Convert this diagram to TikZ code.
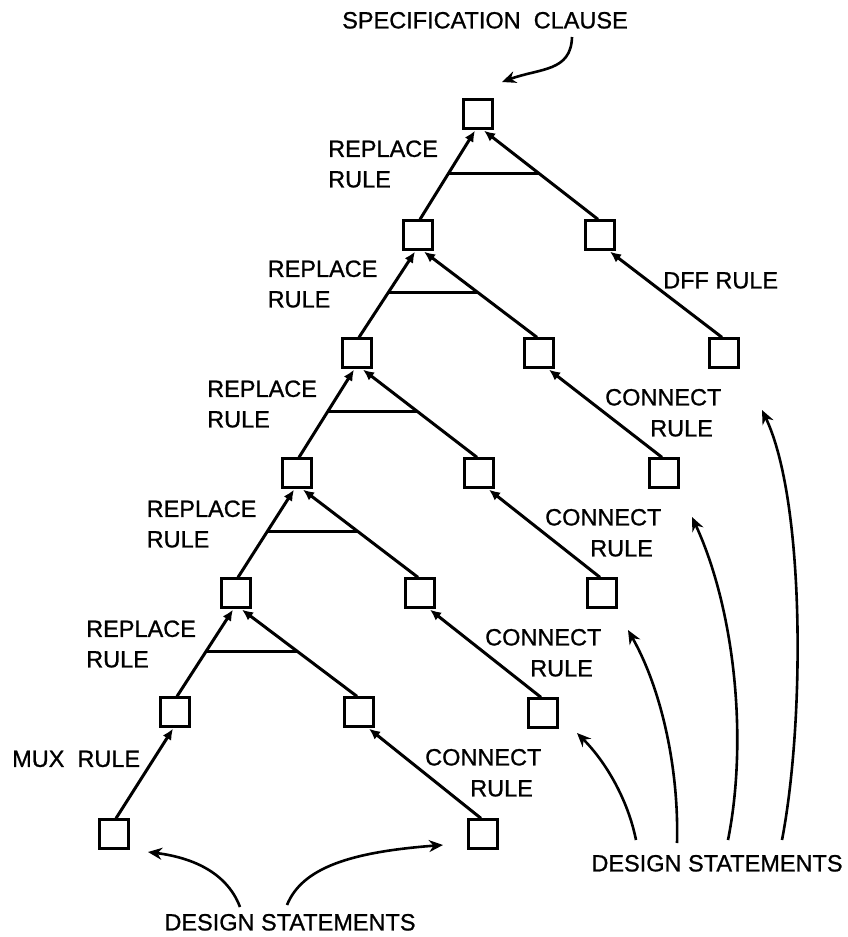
\documentclass[tikz,border=0pt]{standalone}
\usepackage{fontspec}
\setmainfont{Liberation Sans}
\newfontfamily\lblfont{Liberation Sans}[FakeBold=0.9]
\usetikzlibrary{arrows.meta}
\tikzset{
 box/.style={draw, line width=2.8pt, minimum size=28.5pt, inner sep=0pt},
 arm/.style={line width=3pt, -{Latex[length=11pt,width=10pt]}},
 bar/.style={line width=3pt},
 lbl/.style={font=\lblfont\fontsize{23.5}{28}\selectfont, inner sep=0pt, text height=16.8pt, text depth=0pt, anchor=west},
 ctr/.style={lbl, anchor=center},
 note/.style={line width=2.6pt, -{Stealth[length=14pt,width=12pt]}},
}
\begin{document}
\begin{tikzpicture}[x=1pt,y=-1pt]
\useasboundingbox (0,0) rectangle (847,937);
% boxes
\node[box] (T0) at (478,114) {};
\node[box] (L1) at (418,235) {};
\node[box] (R1) at (600,235) {};
\node[box] (L2) at (357,353) {};
\node[box] (R2) at (539,353) {};
\node[box] (D)  at (724,353) {};
\node[box] (L3) at (297,473) {};
\node[box] (R3) at (479,473) {};
\node[box] (C3) at (664,473) {};
\node[box] (L4) at (236,593) {};
\node[box] (R4) at (420,593) {};
\node[box] (C4) at (602,593) {};
\node[box] (L5) at (175,712) {};
\node[box] (R5) at (359,712) {};
\node[box] (C5) at (543,713) {};
\node[box] (L6) at (114,834) {};
\node[box] (C6) at (483,834) {};
% replace rules
\foreach \p/\a/\b/\n in {T0/L1/R1/0, L1/L2/R2/1, L2/L3/R3/2, L3/L4/R4/3, L4/L5/R5/4}{
  \draw[arm] ([xshift=2pt]\a.north) -- coordinate[pos=0.52] (pa\n) ([xshift=-3pt,yshift=-1pt]\p.south);
  \draw[arm] ([xshift=-2pt]\b.north) -- coordinate[pos=0.52] (pb\n) ([xshift=6pt,yshift=-1pt]\p.south);
  \draw[bar] (pa\n) -- (pb\n);
}
% connect / dff / mux rules
\draw[arm] ([xshift=-2pt]D.north) -- ([xshift=10pt,yshift=-1pt]R1.south);
\draw[arm] ([xshift=-2pt]C3.north) -- ([xshift=10pt,yshift=-1pt]R2.south);
\draw[arm] ([xshift=-2pt]C4.north) -- ([xshift=10pt,yshift=-1pt]R3.south);
\draw[arm] ([xshift=-2pt]C5.north) -- ([xshift=10pt,yshift=-1pt]R4.south);
\draw[arm] ([xshift=-2pt]C6.north) -- ([xshift=10pt,yshift=-1pt]R5.south);
\draw[arm] ([xshift=2pt]L6.north) -- ([xshift=-2pt,yshift=-1pt]L5.south);
% labels
\foreach \k in {0,...,4}{
  \node[lbl] (rp\k) at ({328-60.5*\k},{148.5+120*\k}) {REPLACE};
  \node[lbl] (rr\k) at ({328-60.5*\k},{179+120*\k}) {RULE};
}
\foreach \k in {0,...,3}{
  \node[lbl] (cc\k) at ({605-60*\k},{397+120*\k}) {CONNECT};
  \node[lbl] (cr\k) at ({650-60*\k},{428+120*\k}) {RULE};
}
\node[lbl] (dff) at (663,280) {DFF RULE};
\node[lbl] (mux) at (12,758.5) {MUX\ \ RULE};
\node[ctr] (spec) at (485,20) {SPECIFICATION\ \ CLAUSE};
\node[ctr] (dsl) at (290,922) {DESIGN STATEMENTS};
\node[ctr] (dsr) at (717,863) {DESIGN STATEMENTS};
% annotation arrows
\coordinate (s0) at (572,37);  \coordinate (s1) at (502,82);
\draw[note] (s0) .. controls (571,72) and (540,68) .. (s1);
\coordinate (b0) at (240,907); \coordinate (b1) at (148,852);
\draw[note] (b0) .. controls (226,870) and (188,857) .. (b1);
\coordinate (b2) at (287,905); \coordinate (b3) at (443,845);
\draw[note] (b2) .. controls (302,868) and (350,852) .. (b3);
\coordinate (r0) at (636,840); \coordinate (r1) at (577,733);
\draw[note] (r0) .. controls (628,800) and (606,762) .. (r1);
\coordinate (r2) at (677,843); \coordinate (r3) at (628,630);
\draw[note] (r2) .. controls (679,770) and (662,690) .. (r3);
\coordinate (r4) at (728,840); \coordinate (r5) at (692,517);
\draw[note] (r4) .. controls (748,740) and (735,610) .. (r5);
\coordinate (r6) at (782,840); \coordinate (r7) at (762,410);
\draw[note] (r6) .. controls (805,720) and (805,500) .. (r7);
\end{tikzpicture}
\end{document}
